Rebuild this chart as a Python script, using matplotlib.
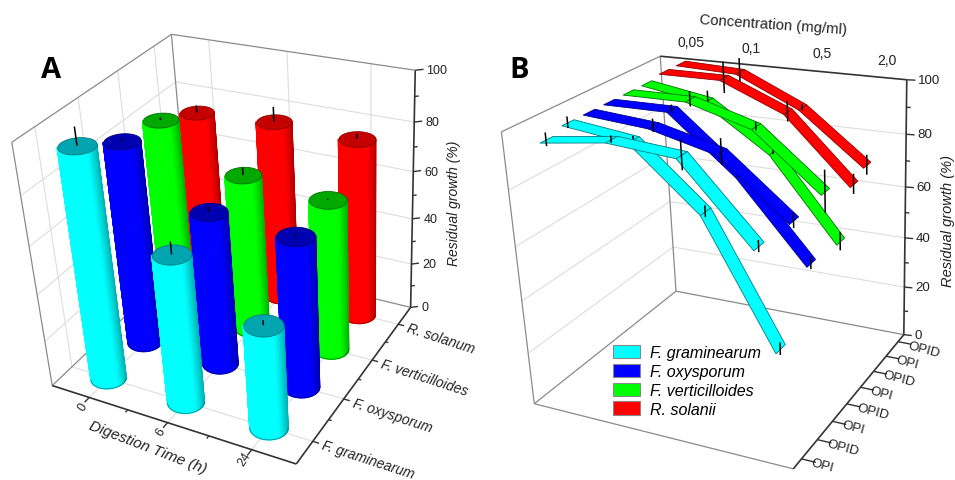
import numpy as np
import matplotlib
matplotlib.use('Agg')
import matplotlib.pyplot as plt
from matplotlib.patches import Patch
from mpl_toolkits.mplot3d.art3d import Poly3DCollection

plt.rcParams['font.family'] = ['Liberation Sans', 'DejaVu Sans']

W, H = 955, 481
colors = ['#00FFFF', '#0000FF', '#00FF00', '#FF0000']
tops = ['#00A5B0', '#0000B0', '#00A800', '#C40000']
edges = ['#007A80', '#000080', '#007000', '#900000']

times = ['0', '6', '24']
species_a = ['F. graminearum', 'F. oxysporum', 'F. verticilloides', 'R. solanum']
species_b = ['F. graminearum', 'F. oxysporum', 'F. verticilloides', 'R. solanii']
concentrations = ['0,05', '0,1', '0,5', '2,0']
peptides = ['OPI', 'OPID'] * 4

# panel A: residual growth per digestion time
growth_gram = [96, 62, 43]
growth_oxy = [86, 65, 63]
growth_vert = [83, 67, 64]
growth_sol = [75, 77, 76]
err_gram = [7, 5, 2]
err_oxy = [1, 2, 1]
err_vert = [1, 3, 0.5]
err_sol = [3, 6, 2]

# panel B: residual growth per concentration
gram_opi = [97, 100, 98, 72]
gram_opid = [99, 96, 75, 31]
oxy_opi = [99, 97, 91, 71]
oxy_opid = [99, 99, 79, 51]
vert_opi = [99, 99, 92, 72]
vert_opid = [99, 95, 79, 49]
sol_opi = [100, 100, 90, 66]
sol_opid = [100, 99, 88, 69]
gram_opi_err = [2.3, 1.2, 5, 2]
gram_opid_err = [2, 1.2, 2, 2.3]
oxy_opi_err = [0, 2.3, 4.5, 2.7]
oxy_opid_err = [0, 1.5, 1, 2.3]
vert_opi_err = [0, 2.7, 1.5, 7.7]
vert_opid_err = [0, 3.5, 1, 3.5]
sol_opi_err = [0, 5.8, 3.8, 3.8]
sol_opid_err = [0, 5, 1.2, 3.8]


def camera(xlim, ylim, zlim, anchors):
    # projective camera fitted to where the box corners and ticks sit in the picture
    rows = []
    for x, y, z, u, v in anchors:
        X = [(x - xlim[0]) / (xlim[1] - xlim[0]), (y - ylim[0]) / (ylim[1] - ylim[0]),
             (z - zlim[0]) / (zlim[1] - zlim[0]), 1]
        u, v = u / 500, v / 500
        rows.append(X + [0, 0, 0, 0] + [-u * c for c in X])
        rows.append([0, 0, 0, 0] + X + [-v * c for c in X])
    P = np.linalg.svd(np.array(rows))[2][-1].reshape(3, 4)
    P = np.diag([500, 500, 1]) @ P
    T = np.array([[1 / (xlim[1] - xlim[0]), 0, 0, -xlim[0] / (xlim[1] - xlim[0])],
                  [0, 1 / (ylim[1] - ylim[0]), 0, -ylim[0] / (ylim[1] - ylim[0])],
                  [0, 0, 1 / (zlim[1] - zlim[0]), -zlim[0] / (zlim[1] - zlim[0])],
                  [0, 0, 0, 1]])
    P = P @ T
    mid = [sum(xlim) / 2, sum(ylim) / 2, sum(zlim) / 2, 1]
    return P / (P[2] @ mid)


def make_axes(fig, P):
    ax = fig.add_axes([0, 0, 1, 1], projection='3d', computed_zorder=False)
    ax.set_proj_type('ortho')
    ax.set_axis_off()
    ax.patch.set_visible(False)
    M = np.array([P[0], P[1], [0, 0, 0, -1], P[2]])
    ax.get_proj = lambda: M
    ax.apply_aspect = lambda position=None: None
    ax.viewLim.intervalx = (0, W)
    ax.viewLim.intervaly = (H, 0)
    return ax


def to_px(P, x, y, z):
    q = P @ np.array([x, y, z, 1.0])
    return q[0] / q[2], q[1] / q[2]


def seg(ax, x, y, z, color, lw, zorder=1):
    ax.plot(x, y, z, color=color, lw=lw, zorder=zorder, solid_capstyle='butt')


def walls(ax, xlim, ylim, zticks, grid_xy):
    x0, x1 = xlim
    y0, y1 = ylim
    for z in zticks:
        seg(ax, [x0, x0, x1], [y0, y1, y1], [z, z, z], '#DDDDDD', 0.8)
    if grid_xy:
        for x in grid_xy[0]:
            seg(ax, [x, x, x], [y0, y1, y1], [0, 0, 100], '#DDDDDD', 0.8)
        for y in grid_xy[1]:
            seg(ax, [x1, x0, x0], [y, y, y], [0, 0, 100], '#DDDDDD', 0.8)
    grey = '#8A8A8A'
    seg(ax, [x0, x0], [y0, y0], [0, 100], grey, 0.9, 2)
    seg(ax, [x0, x0], [y1, y1], [0, 100], grey, 0.9, 2)
    seg(ax, [x0, x0], [y0, y1], [100, 100], grey, 0.9, 2)
    seg(ax, [x0, x0], [y0, y1], [0, 0], grey, 0.9, 2)
    seg(ax, [x0, x1], [y1, y1], [0, 0], grey, 0.9, 2)


def cylinder(ax, P, x, y, top, err, idx, zorder):
    n = 72
    th = np.linspace(0, 2 * np.pi, n, endpoint=False)
    cx, cy = x + 0.2 * np.cos(th), y + 0.25 * np.sin(th)
    px = np.array([to_px(P, a, b, top / 2) for a, b in zip(cx, cy)])
    il, ir = px[:, 0].argmin(), px[:, 0].argmax()
    one = [(il + k) % n for k in range((ir - il) % n + 1)]
    two = [(il - k) % n for k in range((il - ir) % n + 1)]
    near = one if px[one, 1].mean() > px[two, 1].mean() else two
    sx, sy = cx[near], cy[near]
    X = np.vstack([sx, sx])
    Y = np.vstack([sy, sy])
    Z = np.vstack([np.zeros_like(sx), np.full_like(sx, top)])
    mid, half = (px[ir, 0] + px[il, 0]) / 2, (px[ir, 0] - px[il, 0]) / 2
    u = (px[near, 0] - mid) / half
    shade = 1 - 0.32 * np.clip((u - 0.4) / 0.6, 0, 1) ** 1.3
    base = np.array(matplotlib.colors.to_rgba(colors[idx]))
    fc = np.repeat(base[None, None, :], 2, axis=0).repeat(len(near), axis=1)
    fc[:, :, :3] *= shade[None, :, None]
    ax.plot_surface(X, Y, Z, facecolors=fc, rstride=1, cstride=1, shade=False, linewidth=1.0, zorder=zorder)
    seg(ax, sx, sy, np.zeros_like(sx), edges[idx], 0.5, zorder + 0.05)
    disc = Poly3DCollection([list(zip(cx, cy, np.full_like(cx, top)))], facecolor=tops[idx],
                            edgecolor=edges[idx], linewidth=0.6, zorder=zorder + 0.1)
    ax.add_collection3d(disc)
    seg(ax, [x, x], [y, y], [top, top + err], 'black', 1.1, zorder + 0.2)


xa, ya = (-0.5, 2.5), (-0.5, 3.5)
anchors_a = [(-0.5, -0.5, 0, 53, 385), (2.5, -0.5, 0, 296, 465), (2.5, 3.5, 0, 410, 307), (-0.5, 3.5, 0, 190, 258),
             (-0.5, -0.5, 100, 12, 144), (-0.5, 3.5, 100, 172, 33), (2.5, 3.5, 100, 415, 72),
             (2.5, 3.5, 80, 414, 124), (2.5, 3.5, 60, 413, 173), (2.5, 3.5, 40, 412, 220), (2.5, 3.5, 20, 411, 265),
             (0, -0.5, 0, 90, 398), (0.5, -0.5, 0, 127, 411), (1, -0.5, 0, 167, 423), (1.5, -0.5, 0, 208, 437), (2, -0.5, 0, 250, 452),
             (2.5, 0, 0, 313, 442), (2.5, 0.5, 0, 328, 422), (2.5, 1, 0, 347, 400), (2.5, 1.5, 0, 358, 380),
             (2.5, 2, 0, 373, 362), (2.5, 2.5, 0, 387, 342), (2.5, 3, 0, 398, 323)]
Pa = camera(xa, ya, (0, 100), anchors_a)

xb, yb = (-0.5, 3.5), (-0.5, 7.5)
anchors_b = [(-0.5, -0.5, 0, 534, 405), (3.5, -0.5, 0, 792, 470), (3.5, 7.5, 0, 903, 336), (-0.5, 7.5, 0, 676, 292),
             (-0.5, -0.5, 100, 502, 133), (-0.5, 7.5, 100, 660, 57), (3.5, 7.5, 100, 907, 80),
             (3.5, 7.5, 80, 906, 135), (3.5, 7.5, 60, 905, 189), (3.5, 7.5, 40, 905, 240), (3.5, 7.5, 20, 904, 288),
             (3.5, 0, 0, 800, 460), (3.5, 1, 0, 818, 441), (3.5, 2, 0, 833, 422), (3.5, 3, 0, 848, 404),
             (3.5, 4, 0, 862, 388), (3.5, 5, 0, 873, 372), (3.5, 6, 0, 887, 357)]
Pb = camera(xb, yb, (0, 100), anchors_b)

fig = plt.figure(figsize=(W / 100, H / 100), dpi=100)
fig.patch.set_facecolor('white')
axa = make_axes(fig, Pa)
axb = make_axes(fig, Pb)

# panel A
walls(axa, xa, ya, [20, 40, 60, 80], ([0, 1, 2], [0, 1, 2, 3]))
bars = [growth_gram, growth_oxy, growth_vert, growth_sol]
bar_err = [err_gram, err_oxy, err_vert, err_sol]
for i in [3, 2, 1, 0]:
    for j in range(3):
        cylinder(axa, Pa, j, i, bars[i][j], bar_err[i][j], i, 10 + (3 - i) * 10 + j)

ax = axa
seg(ax, [-0.5, 2.5], [-0.5, -0.5], [0, 0], '#333333', 1.2, 2)
seg(ax, [2.5, 2.5], [-0.5, 3.5], [0, 0], '#333333', 1.2, 2)
seg(ax, [2.5, 2.5], [3.5, 3.5], [0, 100], '#333333', 1.2, 2)
seg(ax, [-0.5, 2.5], [3.5, 3.5], [100, 100], '#8A8A8A', 0.9, 2)

for k in range(0, 101, 10):
    d = 0.07 if k % 20 == 0 else 0.035
    seg(ax, [2.5, 2.5 + d], [3.5, 3.5 + d], [k, k], '#333333', 1, 2)
    if k % 20 == 0:
        u, v = to_px(Pa, 2.5, 3.5, k)
        ax.text2D(u + 11, v, str(k), transform=ax.transData, fontsize=9, va='center', ha='left', color='#222222')
for j in np.arange(0, 2.1, 0.5):
    d = 0.12 if j == int(j) else 0.06
    seg(ax, [j, j], [-0.5, -0.5 - d], [0, 0], '#333333', 1, 2)
for i in np.arange(0, 3.1, 0.5):
    d = 0.07 if i == int(i) else 0.035
    seg(ax, [2.5, 2.5 + d], [i, i], [0, 0], '#333333', 1, 2)
for j, s in enumerate(times):
    u, v = to_px(Pa, j, -0.5, 0)
    ax.text2D(u - 7, v + 9, s, transform=ax.transData, fontsize=9, rotation=58, ha='center', va='center', color='#222222')
for i, s in enumerate(species_a):
    u, v = to_px(Pa, 2.5, i, 0)
    ax.text2D(u + 9, v + 3, s, transform=ax.transData, fontsize=10, style='italic', rotation=-18, rotation_mode='anchor',
              ha='left', va='center', color='#222222')
ax.text2D(148, 448, 'Digestion Time (h)', transform=ax.transData, fontsize=11, style='italic', rotation=-21, ha='center', va='center', color='#222222')
ax.text2D(454, 203, 'Residual growth (%)', transform=ax.transData, fontsize=10, style='italic', rotation=90, ha='center', va='center', color='#222222')
ax.text2D(51, 71, 'A', transform=ax.transData, fontsize=21, fontweight='bold', family='Open Sans', ha='center', va='center')

# panel B
ax = axb
walls(ax, xb, yb, [20, 40, 60, 80], None)
seg(ax, [-0.5, 3.5], [-0.5, -0.5], [0, 0], '#8A8A8A', 0.9, 2)
seg(ax, [3.5, 3.5], [-0.5, 7.5], [0, 0], '#333333', 1.2, 2)
seg(ax, [3.5, 3.5], [7.5, 7.5], [0, 100], '#333333', 1.2, 2)
seg(ax, [-0.5, 3.5], [7.5, 7.5], [100, 100], '#333333', 1.2, 2)
for k in range(0, 101, 10):
    a, b = (0.12, 0.04) if k % 20 == 0 else (0.06, 0.02)
    seg(ax, [3.5, 3.5 + a], [7.5, 7.5 + b], [k, k], '#333333', 1, 2)
    if k % 20 == 0:
        u, v = to_px(Pb, 3.5, 7.5, k)
        ax.text2D(u + 11, v, str(k), transform=ax.transData, fontsize=9.6, va='center', ha='left', color='#222222')
for i, s in enumerate(peptides):
    seg(ax, [3.5, 3.7], [i, i], [0, 0], '#333333', 1, 2)
    u, v = to_px(Pb, 3.5, i, 0)
    ax.text2D(u + 10, v + 3, s, transform=ax.transData, fontsize=9.5, rotation=-15, rotation_mode='anchor', ha='left', va='center', color='#222222')
label_dx = [2, 4, 13, 14]
for j, s in enumerate(concentrations):
    u, v = to_px(Pb, j, 7.5, 100)
    ax.text2D(u + label_dx[j], v - 17, s, transform=ax.transData, fontsize=10, ha='center', va='center', color='#222222')
ax.text2D(773, 25, 'Concentration (mg/ml)', transform=ax.transData, fontsize=10.7, rotation=-4, ha='center', va='center', color='#222222')
ax.text2D(948, 221, 'Residual growth (%)', transform=ax.transData, fontsize=10.5, style='italic', rotation=90, ha='center', va='center', color='#222222')
ax.text2D(519, 71, 'B', transform=ax.transData, fontsize=21, fontweight='bold', family='Open Sans', ha='center', va='center')

ribs = [gram_opi, gram_opid, oxy_opi, oxy_opid, vert_opi, vert_opid, sol_opi, sol_opid]
rib_err = [gram_opi_err, gram_opid_err, oxy_opi_err, oxy_opid_err, vert_opi_err, vert_opid_err, sol_opi_err, sol_opid_err]
hw = 0.28
for i in range(7, -1, -1):
    base = 10 + (7 - i) * 10
    c = i // 2
    for j in range(3):
        poly = [(j, i - hw, ribs[i][j]), (j, i + hw, ribs[i][j]), (j + 1, i + hw, ribs[i][j + 1]), (j + 1, i - hw, ribs[i][j + 1])]
        ax.add_collection3d(Poly3DCollection([poly], facecolor=colors[c], edgecolor=edges[c], linewidth=0.6, zorder=base + j))
    for j in range(4):
        if rib_err[i][j]:
            seg(ax, [j, j], [i, i], [ribs[i][j] - rib_err[i][j], ribs[i][j] + rib_err[i][j]], 'black', 1.1, base + 5)

handles = [Patch(facecolor=c, edgecolor='#888888', linewidth=0.8, label=s) for c, s in zip(colors, species_b)]
ax.legend(handles=handles, loc='upper left', bbox_to_anchor=(613, 346), bbox_transform=ax.transData, frameon=False,
          prop={'style': 'italic', 'size': 11.5}, borderpad=0, borderaxespad=0, handlelength=1.7, handleheight=0.9,
          handletextpad=0.6, labelspacing=0.23)

fig.savefig('out.png', dpi=100)
